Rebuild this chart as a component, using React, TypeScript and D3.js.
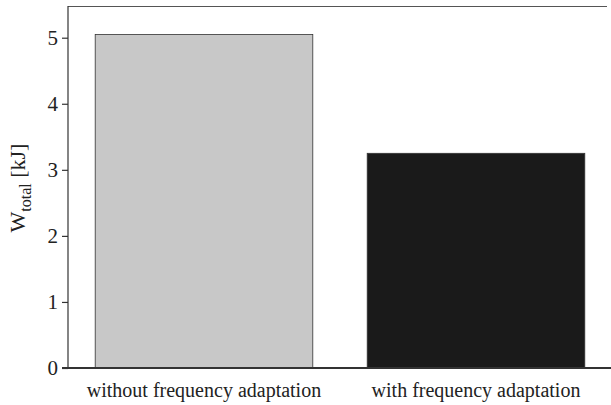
import { useEffect, useRef } from 'react';
import * as d3 from 'd3';

const categories = ['without frequency adaptation', 'with frequency adaptation'];
const values = [5.05, 3.25];
const barColors = ['#c8c8c8', '#1a1a1a'];
const yTicks = [0, 1, 2, 3, 4, 5];

const width = 611;
const height = 405;

export default function App() {
  const svgRef = useRef<SVGSVGElement>(null);

  useEffect(() => {
    if (!svgRef.current) return;
    const svg = d3.select(svgRef.current);
    svg.selectAll('*').remove();

    const left = 68;
    const right = 607;
    const top = 6;
    const bottom = 368;
    const font = '"Liberation Serif", "Times New Roman", serif';

    const x = d3.scaleBand<string>()
      .domain(categories)
      .range([left, 612])
      .paddingInner(0.2)
      .paddingOuter(0.1);

    const y = d3.scaleLinear().domain([0, 5.48]).range([bottom, top]);

    svg.append('rect').attr('width', width).attr('height', height).attr('fill', '#fff');

    // frame: top line
    svg.append('line')
      .attr('x1', left).attr('x2', right)
      .attr('y1', top + 0.5).attr('y2', top + 0.5)
      .attr('stroke', '#555').attr('stroke-width', 1);

    // bars
    svg.selectAll('rect.bar')
      .data(categories)
      .enter()
      .append('rect')
      .attr('class', 'bar')
      .attr('x', d => x(d)!)
      .attr('y', (_, i) => y(values[i]))
      .attr('width', x.bandwidth())
      .attr('height', (_, i) => bottom - y(values[i]))
      .attr('fill', (_, i) => barColors[i])
      .attr('stroke', '#333')
      .attr('stroke-width', 0.8);

    // y axis
    const yAxis = d3.axisLeft(y).tickValues(yTicks).tickSize(6).tickPadding(4).tickFormat(d3.format('d'));
    const gy = svg.append('g').attr('transform', `translate(${left},0)`).call(yAxis);
    gy.attr('font-size', null).attr('font-family', null);
    gy.select('.domain').attr('stroke', '#333').attr('stroke-width', 1.2).attr('d', `M-0,${top}V${bottom}`);
    gy.selectAll('.tick line').attr('stroke', '#333').attr('stroke-width', 1.2);
    gy.selectAll('.tick text')
      .style('font-family', font)
      .style('font-size', '21px')
      .attr('fill', '#222');

    // bottom axis line
    svg.append('line')
      .attr('x1', left - 6).attr('x2', width)
      .attr('y1', bottom).attr('y2', bottom)
      .attr('stroke', '#333').attr('stroke-width', 2);

    // category labels
    svg.selectAll('text.cat')
      .data(categories)
      .enter()
      .append('text')
      .attr('class', 'cat')
      .attr('x', d => x(d)! + x.bandwidth() / 2)
      .attr('y', 397)
      .attr('text-anchor', 'middle')
      .attr('font-family', font)
      .attr('font-size', 20)
      .attr('fill', '#222')
      .text(d => d);

    // y label
    const label = svg.append('text')
      .attr('transform', `translate(25,${(top + bottom) / 2 + 1}) rotate(-90)`)
      .attr('text-anchor', 'middle')
      .attr('font-family', font)
      .attr('font-size', 22)
      .attr('fill', '#222');
    label.append('tspan').text('W');
    label.append('tspan').attr('font-size', 16).attr('dy', 6).text('total');
    label.append('tspan').attr('dy', -6).text(' [kJ]');
  }, []);

  return (
    <svg
      ref={svgRef}
      width={width}
      height={height}
      style={{ position: 'absolute', left: 0, top: 0 }}
    />
  );
}
